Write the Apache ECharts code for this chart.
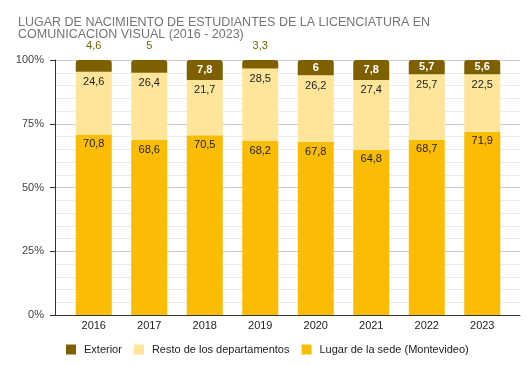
<!DOCTYPE html>
<html>
<head>
<meta charset="utf-8">
<script src="https://cdn.jsdelivr.net/npm/echarts@6/dist/echarts.min.js"></script>
<style>html,body{margin:0;padding:0;background:#fff}#c{width:532px;height:366px}</style>
</head>
<body>
<div id="c"></div>
<script>
const categories = ['2016','2017','2018','2019','2020','2021','2022','2023'];
const exterior = [4.6, 5, 7.8, 3.3, 6, 7.8, 5.7, 5.6];
const resto = [24.6, 26.4, 21.7, 28.5, 26.2, 27.4, 25.7, 22.5];
const lugar = [70.8, 68.6, 70.5, 68.2, 67.8, 64.8, 68.7, 71.9];
const yTicks = [0, 25, 50, 75, 100];
const seriesNames = ['Exterior', 'Resto de los departamentos', 'Lugar de la sede (Montevideo)'];

const fmt = v => String(v).replace('.', ',');
const FONT = 'Liberation Sans, Arial, sans-serif';

const chart = echarts.init(document.getElementById('c'), null, {renderer: 'canvas'});

const extData = exterior.map(v => {
  if (v < 5.5) {
    return {value: v, label: {position: 'top', distance: 9, color: '#7f6000', fontWeight: 'normal'}};
  }
  return {value: v};
});

chart.setOption({
  animation: false,
  title: {
    text: 'LUGAR DE NACIMIENTO DE ESTUDIANTES DE LA LICENCIATURA EN\nCOMUNICACION VISUAL (2016 - 2023)',
    left: 13, top: 12,
    textStyle: {fontFamily: FONT, fontSize: 12.5, fontWeight: 'normal', color: '#757575', lineHeight: 11.5}
  },
  legend: {
    data: seriesNames,
    left: 61, top: 339,
    icon: 'rect', itemWidth: 10, itemHeight: 10, itemGap: 12,
    textStyle: {fontFamily: FONT, fontSize: 11, color: '#222', padding: [0, 0, 0, 3]}
  },
  grid: [
    {left: 55, right: 12, top: 60, bottom: 51},
    {left: 66, right: 22, top: 60, bottom: 51}
  ],
  xAxis: [
    {gridIndex: 0, type: 'value', min: 0, max: 1, axisLabel: {show: false}, splitLine: {show: false},
     axisTick: {show: false}, axisLine: {show: true, lineStyle: {color: '#333', width: 1}}},
    {gridIndex: 1, type: 'category', data: categories, axisLine: {show: false}, axisTick: {show: false},
     axisLabel: {fontFamily: FONT, fontSize: 11, color: '#222', margin: 5}}
  ],
  yAxis: [
    {gridIndex: 0, type: 'value', min: 0, max: 100, interval: 25,
     axisLabel: {formatter: '{value}%', fontFamily: FONT, fontSize: 11, color: '#444', margin: 11},
     axisLine: {show: true, lineStyle: {color: '#333'}},
     axisTick: {show: true, length: 5, lineStyle: {color: '#333'}},
     splitLine: {show: true, lineStyle: {color: '#ccc'}},
     minorTick: {show: false, splitNumber: 5},
     minorSplitLine: {show: true, lineStyle: {color: '#ebebeb'}}},
    {gridIndex: 1, type: 'value', min: 0, max: 100, show: false}
  ],
  series: [
    {name: seriesNames[2], type: 'bar', stack: 's', xAxisIndex: 1, yAxisIndex: 1, data: lugar,
     barWidth: 36, itemStyle: {color: '#fbbc04'},
     label: {show: true, position: 'insideTop', distance: 4, formatter: p => fmt(p.value),
             fontFamily: FONT, fontSize: 11, color: '#222'}},
    {name: seriesNames[1], type: 'bar', stack: 's', xAxisIndex: 1, yAxisIndex: 1, data: resto,
     barWidth: 36, itemStyle: {color: '#ffe599'},
     label: {show: true, position: 'insideTop', distance: 5, formatter: p => fmt(p.value),
             fontFamily: FONT, fontSize: 11, color: '#222'}},
    {name: seriesNames[0], type: 'bar', stack: 's', xAxisIndex: 1, yAxisIndex: 1, data: extData,
     barWidth: 36, itemStyle: {color: '#7f6000', borderRadius: [3, 3, 0, 0]},
     label: {show: true, position: 'inside', formatter: p => fmt(p.value),
             fontFamily: FONT, fontSize: 11, color: '#fff', fontWeight: 'bold'}}
  ]
});
</script>
</body>
</html>
